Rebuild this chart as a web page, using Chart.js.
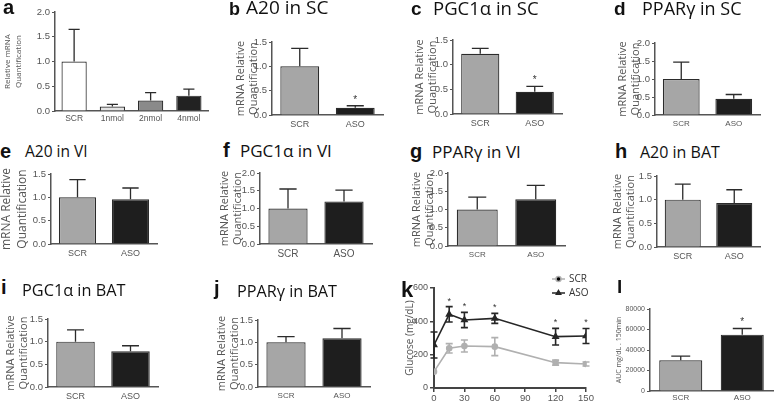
<!DOCTYPE html>
<html>
<head>
<meta charset="utf-8">
<script src="https://cdn.jsdelivr.net/npm/chart.js@4.4.0/dist/chart.umd.min.js"></script>
<style>
  body { margin: 0; background: #fff; width: 778px; height: 403px; position: relative; overflow: hidden; }
  canvas { position: absolute; }
  .lt { position: absolute; font: bold 20px 'Liberation Sans', Arial, sans-serif; color: #111; line-height: 1; white-space: nowrap; }
  .tt { position: absolute; font: 17px 'Open Sans', sans-serif; color: #111; line-height: 1; white-space: nowrap; }
</style>
</head>
<body>
<script>
/* Multi-panel qPCR / glucose figure, drawn with Chart.js */

// --- data ---
const groupLabels = ['SCR', 'ASO'];
const doseLabels = ['SCR', '1nmol', '2nmol', '4nmol'];

const doseMean = [1.0, 0.09, 0.21, 0.31];
const doseSem = [0.65, 0.045, 0.16, 0.13];

const a20ScMean = [1.0, 0.15];   const a20ScSem = [0.37, 0.04];
const pgcScMean = [1.22, 0.45];  const pgcScSem = [0.11, 0.11];
const pparScMean = [1.0, 0.45];  const pparScSem = [0.47, 0.12];
const a20ViMean = [1.0, 0.96];   const a20ViSem = [0.38, 0.24];
const pgcViMean = [1.0, 1.2];    const pgcViSem = [0.55, 0.32];
const pparViMean = [1.0, 1.28];  const pparViSem = [0.34, 0.38];
const a20BatMean = [1.0, 0.93];  const a20BatSem = [0.33, 0.28];
const pgcBatMean = [1.0, 0.79];  const pgcBatSem = [0.26, 0.12];
const pparBatMean = [1.0, 1.09]; const pparBatSem = [0.13, 0.22];

const glucoseTimes = [0, 15, 30, 60, 120, 150];
const scrGlucose = [98, 238, 252, 248, 152, 144];
const scrGlucoseSem = [0, 28, 36, 54, 15, 12];
const asoGlucose = [258, 442, 408, 418, 308, 312];
const asoGlucoseSem = [78, 46, 46, 30, 50, 45];
const glucoseSigTimes = [15, 30, 60, 120, 150];

const aucMean = [30000, 55000];
const aucSem = [4000, 6000];

// --- colours ---
const GREY = '#a6a6a6', BLACK = '#1e1e1e', EDGE = '#2b2b2b', AXIS = '#555', TXT = '#555';

Chart.defaults.font.family = "'Liberation Sans', Arial, sans-serif";
Chart.defaults.color = TXT;

// --- error bars + significance stars ---
const errorBars = {
  id: 'errorBars',
  afterDatasetsDraw(chart, args, opts) {
    const ctx = chart.ctx, ys = chart.scales.y;
    ctx.save();
    (opts.sets || []).forEach((set, di) => {
      const meta = chart.getDatasetMeta(di);
      const vals = chart.data.datasets[di].data;
      ctx.strokeStyle = set.color;
      ctx.lineWidth = set.width || 1.3;
      meta.data.forEach((el, i) => {
        const v = typeof vals[i] === 'object' ? vals[i].y : vals[i];
        const e = set.sem[i];
        if (!e) return;
        const top = ys.getPixelForValue(v + e);
        const cap = set.cap || el.width * 0.22;
        ctx.beginPath();
        ctx.moveTo(el.x, set.both ? ys.getPixelForValue(v - e) : el.y);
        ctx.lineTo(el.x, top);
        ctx.moveTo(el.x - cap, top); ctx.lineTo(el.x + cap, top);
        if (set.both) {
          const bot = ys.getPixelForValue(v - e);
          ctx.moveTo(el.x - cap, bot); ctx.lineTo(el.x + cap, bot);
        }
        ctx.stroke();
      });
    });
    ctx.fillStyle = '#333';
    ctx.font = (opts.starSize || 10) + "px 'Liberation Sans', Arial";
    ctx.textAlign = 'center';
    ctx.textBaseline = 'bottom';
    (opts.stars || []).forEach(s => {
      const el = chart.getDatasetMeta(s.ds).data[s.i];
      const vals = chart.data.datasets[s.ds].data;
      const v = typeof vals[s.i] === 'object' ? vals[s.i].y : vals[s.i];
      const top = ys.getPixelForValue(v + opts.sets[s.ds].sem[s.i]);
      ctx.fillText('*', el.x, top - 1);
    });
    ctx.restore();
  }
};

// line legend drawn beside the glucose plot
const lineLegend = {
  id: 'lineLegend',
  afterDraw(chart) {
    const ctx = chart.ctx, a = chart.chartArea;
    ctx.save();
    chart.data.datasets.forEach((ds, k) => {
      const y = a.top - 9 + k * 14, x = a.right - 34;
      ctx.strokeStyle = ds.borderColor; ctx.lineWidth = 1.5;
      ctx.beginPath(); ctx.moveTo(x, y); ctx.lineTo(x + 13, y); ctx.stroke();
      Chart.helpers.drawPoint(ctx, { pointStyle: ds.pointStyle, radius: 2.5, borderWidth: 1 }, x + 6.5, y);
      ctx.fillStyle = '#333';
      ctx.font = "10px 'Open Sans', sans-serif";
      ctx.textBaseline = 'middle';
      ctx.fillText(ds.label, x + 17, y);
    });
    ctx.restore();
  }
};

// canvas positioned so that the plot area lands on [x0,x1] x [yTop,yBot]
function place(b) {
  const c = document.createElement('canvas');
  const pt = b.pt || 8, pr = b.pr || 3;
  const left = b.x0 - b.yw, top = b.yTop - pt;
  c.width = b.x1 - left + pr;
  c.height = b.yBot - top + b.xh;
  c.style.left = left + 'px';
  c.style.top = top + 'px';
  document.body.appendChild(c);
  return c;
}

function barPanel(b, labels, mean, sem, colors, yMax, yStep, yTitle, stars) {
  const canvas = place(b);
  new Chart(canvas, {
    type: 'bar',
    data: {
      labels: labels,
      datasets: [{
        data: mean,
        backgroundColor: colors,
        borderColor: EDGE,
        borderWidth: 1.2,
        barPercentage: b.bp || 0.7,
        categoryPercentage: 1
      }]
    },
    options: {
      responsive: false,
      animation: false,
      events: [],
      layout: { padding: { top: b.pt || 8, right: b.pr || 3, left: 0, bottom: 0 } },
      plugins: {
        legend: { display: false },
        tooltip: { enabled: false },
        errorBars: { sets: [{ sem: sem, color: EDGE }], stars: (stars || []).map(i => ({ ds: 0, i: i })), starSize: b.ss || 10 }
      },
      scales: {
        x: {
          grid: { display: false, drawTicks: false },
          border: { color: AXIS, width: 1.5 },
          ticks: { color: TXT, font: { size: b.xf || 9 }, padding: b.xp || 4, maxRotation: 0 },
          afterFit: s => { s.height = b.xh; }
        },
        y: {
          min: 0, max: yMax,
          ticks: { stepSize: yStep, color: TXT, font: { size: b.tf || 9.5 }, padding: 2, callback: b.fmt || (v => v.toFixed(1)) },
          grid: { drawOnChartArea: false, tickLength: 3, color: AXIS, lineWidth: 1 },
          border: { color: AXIS, width: 1.5 },
          title: { display: true, text: yTitle, color: TXT, font: { size: b.tsz || 11, family: "'Open Sans', sans-serif", lineHeight: b.tlh || 1.18 }, padding: 0 },
          afterFit: s => { s.width = b.yw; }
        }
      }
    },
    plugins: [errorBars]
  });
}

const mrnaTitle = ['mRNA Relative', 'Quantification'];
const twoColors = [GREY, BLACK];

// a - dose response
barPanel({ x0: 55, x1: 208, yTop: 12, yBot: 111, yw: 53, xh: 16, bp: 0.66, tf: 9.5, xf: 8.5, xp: 3, tsz: 8, tlh: 1.4 },
  doseLabels, doseMean, doseSem, ['#ffffff', '#e3e3e3', '#8a8a8a', '#222222'], 2.0, 0.5, ['Relative mRNA', 'Quantification']);
// b - A20 in SC
barPanel({ x0: 272, x1: 383, yTop: 42, yBot: 115, yw: 38, xh: 16 },
  groupLabels, a20ScMean, a20ScSem, twoColors, 1.5, 0.5, mrnaTitle, [1]);
// c - PGC1a in SC
barPanel({ x0: 453, x1: 562, yTop: 40, yBot: 114, yw: 40, xh: 16 },
  groupLabels, pgcScMean, pgcScSem, twoColors, 1.5, 0.5, mrnaTitle, [1]);
// d - PPARg in SC
barPanel({ x0: 655, x1: 760, yTop: 43, yBot: 115, yw: 39, xh: 16, xf: 8 },
  groupLabels, pparScMean, pparScSem, twoColors, 2.0, 0.5, mrnaTitle);
// e - A20 in VI
barPanel({ x0: 51, x1: 157, yTop: 174, yBot: 244, yw: 52, xh: 17, tsz: 12, tlh: 1.3 },
  groupLabels, a20ViMean, a20ViSem, twoColors, 1.5, 0.5, mrnaTitle);
// f - PGC1a in VI
barPanel({ x0: 260, x1: 372, yTop: 173, yBot: 244, yw: 42, xh: 17, xf: 10 },
  groupLabels, pgcViMean, pgcViSem, twoColors, 2.0, 0.5, mrnaTitle);
// g - PPARg in VI
barPanel({ x0: 448, x1: 565, yTop: 173, yBot: 246, yw: 38, xh: 16, xf: 8 },
  groupLabels, pparViMean, pparViSem, twoColors, 2.0, 0.5, mrnaTitle);
// h - A20 in BAT
barPanel({ x0: 657, x1: 760, yTop: 176, yBot: 247, yw: 46, xh: 16 },
  groupLabels, a20BatMean, a20BatSem, twoColors, 1.5, 0.5, mrnaTitle);
// i - PGC1a in BAT
barPanel({ x0: 48, x1: 158, yTop: 319, yBot: 387, yw: 44, xh: 16 },
  groupLabels, pgcBatMean, pgcBatSem, twoColors, 1.5, 0.5, mrnaTitle);
// j - PPARg in BAT
barPanel({ x0: 258, x1: 370, yTop: 320, yBot: 387, yw: 43, xh: 16, xf: 8 },
  groupLabels, pparBatMean, pparBatSem, twoColors, 1.5, 0.5, mrnaTitle);
// l - glucose AUC
barPanel({ x0: 650, x1: 773, yTop: 309, yBot: 391, yw: 35, xh: 12, tf: 7, xf: 8, xp: 2, tsz: 7, tlh: 1.2, fmt: v => String(v) },
  groupLabels, aucMean, aucSem, twoColors, 80000, 20000, 'AUC mg/dL . 150min', [1]);

// k - glucose tolerance curve
(function () {
  const b = { x0: 434, x1: 586, yTop: 288, yBot: 388, yw: 30, xh: 15, pt: 20, pr: 18 };
  const canvas = place(b);
  const sigIdx = glucoseSigTimes.map(t => glucoseTimes.indexOf(t));
  new Chart(canvas, {
    type: 'line',
    data: {
      datasets: [
        { label: 'SCR', data: glucoseTimes.map((t, i) => ({ x: t, y: scrGlucose[i] })),
          borderColor: '#b0b0b0', backgroundColor: '#b0b0b0', pointStyle: 'circle', pointRadius: 2.5, borderWidth: 1.6 },
        { label: 'ASO', data: glucoseTimes.map((t, i) => ({ x: t, y: asoGlucose[i] })),
          borderColor: '#262626', backgroundColor: '#262626', pointStyle: 'triangle', pointRadius: 3, borderWidth: 1.6 }
      ]
    },
    options: {
      responsive: false,
      animation: false,
      events: [],
      layout: { padding: { top: b.pt, right: b.pr, left: 0, bottom: 0 } },
      plugins: {
        legend: { display: false },
        tooltip: { enabled: false },
        errorBars: {
          sets: [{ sem: scrGlucoseSem, color: '#b0b0b0', both: true, cap: 3.5, width: 1.6 },
                 { sem: asoGlucoseSem, color: '#262626', both: true, cap: 3.5, width: 1.6 }],
          stars: sigIdx.map(i => ({ ds: 1, i: i })),
          starSize: 9
        }
      },
      scales: {
        x: {
          type: 'linear', min: 0, max: 150,
          ticks: { stepSize: 30, color: TXT, font: { size: 9.5 }, padding: 1, maxRotation: 0 },
          grid: { drawOnChartArea: false, tickLength: 4, color: '#444', lineWidth: 1.5 },
          border: { color: '#444', width: 2 },
          afterFit: s => { s.height = b.xh; }
        },
        y: {
          min: 0, max: 600,
          ticks: { stepSize: 200, color: TXT, font: { size: 9 }, padding: 2 },
          grid: { drawOnChartArea: false, tickLength: 4, color: '#444', lineWidth: 1.5 },
          border: { color: '#444', width: 2 },
          title: { display: true, text: 'Glucose (mg/dL)', color: TXT, font: { size: 10, family: "'Open Sans', sans-serif" }, padding: 0 },
          afterFit: s => { s.width = b.yw; }
        }
      }
    },
    plugins: [errorBars, lineLegend]
  });
})();

// --- panel letters and titles (HTML text, placed by baseline) ---
function text(cls, str, x, baseline, size) {
  const d = document.createElement('div');
  d.className = cls;
  d.textContent = str;
  d.style.fontSize = size + 'px';
  const ratio = cls === 'lt' ? 0.85 : 0.89;
  d.style.left = x + 'px';
  d.style.top = (baseline - ratio * size) + 'px';
  document.body.appendChild(d);
}
[['a', 3, 14, 20], ['b', 229, 15, 18], ['c', 411, 15, 19], ['d', 614, 15, 19],
 ['e', 0, 158, 20], ['f', 223, 157, 20], ['g', 410, 158, 20], ['h', 615, 158, 20],
 ['i', 1, 294, 20], ['j', 214, 295, 20], ['k', 401, 298, 22], ['l', 617, 293, 19]]
  .forEach(p => text('lt', p[0], p[1], p[2], p[3]));
[['A20 in SC', 246, 15, 19], ['PGC1\u03b1 in SC', 433, 15, 18.5], ['PPAR\u03b3 in SC', 642, 15, 18],
 ['A20 in VI', 25, 158, 15.5], ['PGC1\u03b1 in VI', 240, 157, 17], ['PPAR\u03b3 in VI', 432, 158, 17], ['A20 in BAT', 640, 158, 16],
 ['PGC1\u03b1 in BAT', 22, 297, 16.3], ['PPAR\u03b3 in BAT', 237, 297, 16.2]]
  .forEach(p => text('tt', p[0], p[1], p[2], p[3]));
</script>
</body>
</html>
